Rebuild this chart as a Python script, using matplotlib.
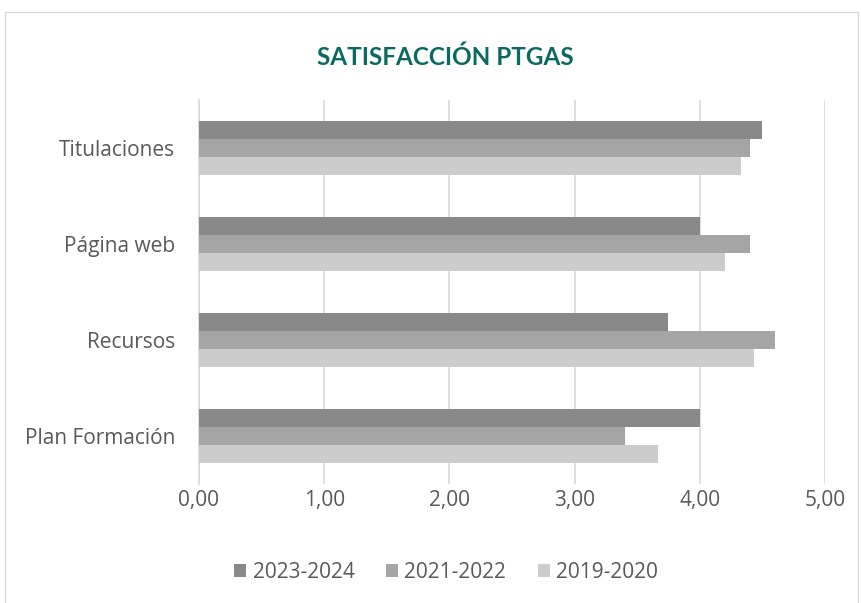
import matplotlib.pyplot as plt
import matplotlib.patches as mpatches
import numpy as np

categories = ['Titulaciones', 'Página web', 'Recursos', 'Plan Formación']
series = ['2023-2024', '2021-2022', '2019-2020']
v2023 = [4.50, 4.00, 3.75, 4.00]
v2021 = [4.40, 4.40, 4.60, 3.40]
v2019 = [4.33, 4.20, 4.43, 3.67]
colors = ['#898989', '#A5A5A5', '#CCCCCC']

plt.rcParams['font.family'] = ['Open Sans', 'DejaVu Sans']

fig = plt.figure(figsize=(8.62, 6.03), dpi=100)
# outer chart border
fig.patches.append(mpatches.Rectangle((5 / 862, -0.01), 853 / 862, 1 - 12 / 603 + 0.01,
                                      transform=fig.transFigure, fill=False,
                                      edgecolor='#D9D9D9', linewidth=1))
ax = fig.add_axes([199 / 862, 1 - 484 / 603, 626 / 862, 384 / 603])

y = np.arange(len(categories))[::-1]
h = 0.19
for i, (vals, col, lab) in enumerate(zip([v2023, v2021, v2019], colors, series)):
    ax.barh(y + (1 - i) * h, vals, height=h, color=col, label=lab, zorder=3)

ax.set_xlim(0, 5)
ax.set_ylim(-0.5, len(categories) - 0.5)
ax.set_xticks(np.arange(0, 5.01, 1))
ax.xaxis.set_major_formatter(plt.FuncFormatter(lambda v, p: ('%.2f' % v).replace('.', ',')))
ax.set_yticks(y)
ax.set_yticklabels(categories)
ax.tick_params(length=0, labelsize=15, labelcolor='#595959')
ax.tick_params(axis='x', pad=4)
ax.tick_params(axis='y', pad=17)
ax.grid(axis='x', color='#D9D9D9', linewidth=1.2, zorder=0)
for s in ['top', 'right', 'bottom']:
    ax.spines[s].set_visible(False)
ax.spines['left'].set_color('#D9D9D9')
ax.spines['left'].set_linewidth(1.2)

fig.text(445 / 862, 1 - 57 / 603, 'SATISFACCIÓN PTGAS', ha='center', va='center',
         fontsize=17.5, fontweight='bold', color='#0B6A5F', family=['Lato', 'DejaVu Sans'])

fig.legend(loc='center', bbox_to_anchor=(446 / 862, 1 - 572 / 603), ncol=3,
           frameon=False, fontsize=15, labelcolor='#595959', handlelength=0.6,
           handleheight=0.6, handletextpad=0.3, columnspacing=1.5)

fig.savefig('out.png', dpi=100)
